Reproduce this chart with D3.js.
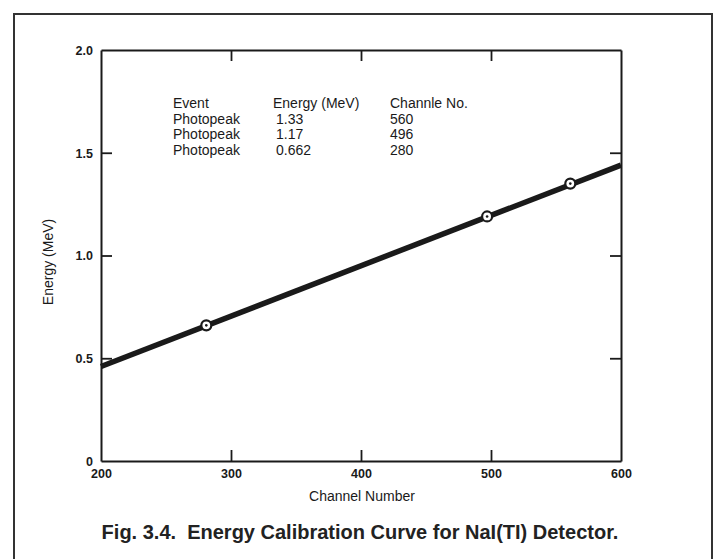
<!DOCTYPE html>
<html>
<head>
<meta charset="utf-8">
<script src="https://cdn.jsdelivr.net/npm/d3@7"></script>
<style>
  html, body { margin: 0; padding: 0; background: #fff; }
  svg { display: block; }
</style>
</head>
<body>
<div id="chart"></div>
<script>
// ---- data ----
const xTicks = [200, 300, 400, 500, 600];
const yTicks = [0, 0.5, 1.0, 1.5, 2.0];
const yTickLabels = ["0", "0.5", "1.0", "1.5", "2.0"];
const lineX = [200, 600];
const lineY = [0.46, 1.44];
const pointChannels = [281, 497, 561];
const pointEnergies = [0.66, 1.19, 1.35];
const tableHeader = ["Event", "Energy (MeV)", "Channle No."];
const tableEvents = ["Photopeak", "Photopeak", "Photopeak"];
const tableEnergies = ["1.33", "1.17", "0.662"];
const tableChannels = ["560", "496", "280"];
const xTitle = "Channel Number";
const yTitle = "Energy (MeV)";
const caption = "Fig. 3.4.  Energy Calibration Curve for NaI(TI) Detector.";

// ---- layout ----
const W = 715, H = 559;
const margin = { left: 101, right: 715 - 621, top: 50, bottom: 559 - 461 };
const ink = "#1a1a1a";
const font = "'Liberation Sans', Arial, Helvetica, sans-serif";

const svg = d3.select("#chart").append("svg")
  .attr("width", W).attr("height", H)
  .style("font-family", font);

// outer frame
svg.append("rect")
  .attr("x", 14).attr("y", 14).attr("width", 698).attr("height", 570)
  .attr("fill", "none").attr("stroke", "#333").attr("stroke-width", 2);

const x = d3.scaleLinear().domain([200, 600]).range([margin.left, W - margin.right]);
const y = d3.scaleLinear().domain([0, 2]).range([H - margin.bottom, margin.top]);

const tickLen = 11;
const g = svg.append("g");

const bottomAxis = d3.axisBottom(x).tickValues(xTicks).tickSize(-tickLen).tickSizeOuter(0).tickPadding(8).tickFormat(d3.format("d"));
const topAxis = d3.axisTop(x).tickValues(xTicks).tickSize(-tickLen).tickSizeOuter(0).tickFormat("");
const leftAxis = d3.axisLeft(y).tickValues(yTicks).tickSize(-tickLen).tickSizeOuter(0).tickPadding(8)
  .tickFormat((d, i) => yTickLabels[i]);
const rightAxis = d3.axisRight(y).tickValues(yTicks).tickSize(-tickLen).tickSizeOuter(0).tickFormat("");

function style(sel) {
  sel.select(".domain").attr("stroke", ink).attr("stroke-width", 2);
  sel.selectAll(".tick line").attr("stroke", ink).attr("stroke-width", 1.8);
  sel.selectAll(".tick text").attr("fill", ink).style("font-size", "12.5px").style("font-weight", "bold").style("font-family", font);
}

g.append("g").attr("transform", `translate(0,${y(0)})`).call(bottomAxis).call(style)
  .call(s => s.selectAll(".tick").filter(d => d === 200 || d === 600).select("line").remove());
g.append("g").attr("transform", `translate(0,${y(2)})`).call(topAxis).call(style)
  .call(s => s.selectAll(".tick").filter(d => d === 200 || d === 600).select("line").remove());
g.append("g").attr("transform", `translate(${x(200)},0)`).call(leftAxis).call(style)
  .call(s => s.selectAll(".tick").filter(d => d === 0 || d === 2).select("line").remove())
  .call(s => s.selectAll(".tick text").attr("dy", "0.35em"));
g.append("g").attr("transform", `translate(${x(600)},0)`).call(rightAxis).call(style)
  .call(s => s.selectAll(".tick").filter(d => d === 0 || d === 2).select("line").remove());

// calibration line
const lineData = lineX.map((d, i) => [d, lineY[i]]);
g.append("path")
  .datum(lineData)
  .attr("d", d3.line().x(d => x(d[0])).y(d => y(d[1])))
  .attr("fill", "none").attr("stroke", ink).attr("stroke-width", 5.5).attr("stroke-linecap", "butt");

// points
const pts = pointChannels.map((d, i) => ({ c: d, e: pointEnergies[i] }));
const pg = g.selectAll(".pt").data(pts).enter().append("g").attr("class", "pt")
  .attr("transform", d => `translate(${x(d.c)},${y(d.e)})`);
pg.append("circle").attr("r", 5).attr("fill", "#fff").attr("stroke", ink).attr("stroke-width", 2.2);
pg.append("circle").attr("r", 1.3).attr("fill", ink);

// table text
const cols = [173, 273, 390];
const rowY0 = 108, rowDy = 15.7;
const tfs = "14px";
tableHeader.forEach((t, i) => {
  svg.append("text").attr("x", cols[i]).attr("y", rowY0).text(t)
    .attr("fill", ink).style("font-size", tfs);
});
tableEvents.forEach((t, r) => {
  const yy = rowY0 + rowDy * (r + 1);
  svg.append("text").attr("x", cols[0]).attr("y", yy).text(t).attr("fill", ink).style("font-size", tfs);
  svg.append("text").attr("x", cols[1] + 3).attr("y", yy).text(tableEnergies[r]).attr("fill", ink).style("font-size", tfs);
  svg.append("text").attr("x", cols[2]).attr("y", yy).text(tableChannels[r]).attr("fill", ink).style("font-size", tfs);
});

// axis titles
svg.append("text").attr("x", 362).attr("y", 501).attr("text-anchor", "middle")
  .attr("fill", ink).style("font-size", "14px").text(xTitle);
svg.append("text").attr("transform", `translate(53,262) rotate(-90)`).attr("text-anchor", "middle")
  .attr("fill", ink).style("font-size", "14px").text(yTitle);

// caption
svg.append("text").attr("x", 360).attr("y", 539).attr("text-anchor", "middle")
  .style("white-space", "pre")
  .attr("fill", "#222").style("font-size", "20px").style("font-weight", "bold").text(caption);
</script>
</body>
</html>
